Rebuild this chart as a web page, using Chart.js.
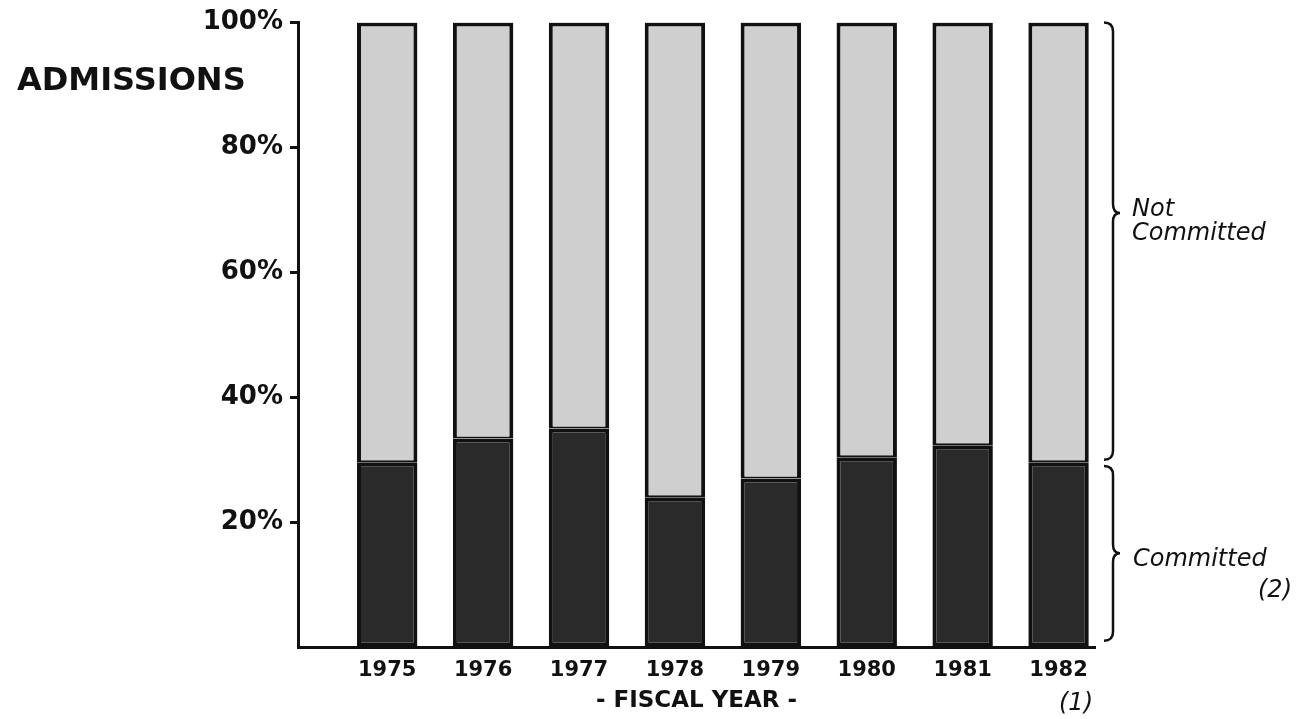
<!DOCTYPE html>
<html>
<head>
<meta charset="utf-8">
<title>Admissions by fiscal year</title>
<script src="https://cdn.jsdelivr.net/npm/chart.js@4.4.1/dist/chart.umd.min.js"></script>
<style>
  html, body { margin: 0; padding: 0; background: #fff; }
  #wrap { width: 1296px; height: 719px; position: relative; }
</style>
</head>
<body>
<div id="wrap"><canvas id="admissionsChart"></canvas></div>
<script>
// fiscal years on the x axis
const years = [1975, 1976, 1977, 1978, 1979, 1980, 1981, 1982];
// share of admissions (%)
const committed    = [29.6, 33.4, 35.0, 24.0, 27.0, 30.4, 32.3, 29.6];
const notCommitted = [70.4, 66.6, 65.0, 76.0, 73.0, 69.6, 67.7, 70.4];
const yTicks = [0, 20, 40, 60, 80, 100];

const FONT = "'DejaVu Sans', 'Liberation Sans', sans-serif";
const INK = '#111111';

// curly brace pointing right, ends hooked back to the left
function drawBrace(ctx, x, yTop, yBottom, yTip) {
    const r = 9;
    ctx.beginPath();
    ctx.moveTo(x - 9, yTop);
    ctx.quadraticCurveTo(x, yTop, x, yTop + r);
    ctx.lineTo(x, yTip - r);
    ctx.quadraticCurveTo(x, yTip, x + 7, yTip);
    ctx.quadraticCurveTo(x, yTip, x, yTip + r);
    ctx.lineTo(x, yBottom - r);
    ctx.quadraticCurveTo(x, yBottom, x - 9, yBottom);
    ctx.stroke();
}

const annotations = {
    id: 'annotations',
    afterDraw(chart) {
        const { ctx, chartArea, scales: { y } } = chart;
        ctx.save();
        ctx.fillStyle = INK;
        ctx.strokeStyle = INK;
        ctx.lineWidth = 2.5;

        // "ADMISSIONS" heading left of the axis
        ctx.font = `bold 32px ${FONT}`;
        ctx.textAlign = 'left';
        ctx.textBaseline = 'middle';
        ctx.fillText('ADMISSIONS', 17, 82);

        // braces on the right
        const bx = chartArea.right + 18;
        drawBrace(ctx, bx, y.getPixelForValue(100), y.getPixelForValue(30), y.getPixelForValue(69.5));
        drawBrace(ctx, bx, y.getPixelForValue(29), y.getPixelForValue(1), y.getPixelForValue(15));

        ctx.font = `oblique 24px ${FONT}`;
        ctx.textAlign = 'left';
        ctx.fillText('Not', bx + 19, y.getPixelForValue(70.1));
        ctx.fillText('Committed', bx + 19, y.getPixelForValue(66.2));
        ctx.fillText('Committed', bx + 20, y.getPixelForValue(14.0));
        ctx.textAlign = 'right';
        ctx.fillText('(2)', 1292, y.getPixelForValue(9));

        // footnote under the last year
        ctx.fillText('(1)', chartArea.right - 2, 704);
        ctx.restore();
    }
};

const barStyle = {
    borderColor: INK,
    borderSkipped: false,
    barPercentage: 1,
    categoryPercentage: 0.63
};

new Chart(document.getElementById('admissionsChart'), {
    type: 'bar',
    data: {
        datasets: [
            {
                label: 'Committed',
                data: years.map((yr, i) => ({ x: yr, y: committed[i] })),
                backgroundColor: '#2a2a2a',
                borderWidth: 4,
                ...barStyle
            },
            {
                label: 'Not Committed',
                data: years.map((yr, i) => ({ x: yr, y: notCommitted[i] })),
                backgroundColor: '#cfcfcf',
                borderWidth: { top: 4, left: 4, right: 4, bottom: 2 },
                ...barStyle
            }
        ]
    },
    options: {
        responsive: true,
        maintainAspectRatio: false,
        animation: false,
        layout: { padding: { left: 0, top: 22, right: 201, bottom: 0 } },
        plugins: { legend: { display: false }, tooltip: { enabled: false } },
        scales: {
            x: {
                type: 'linear',
                stacked: true,
                offset: false,
                min: 1974.07,
                max: 1982.38,
                afterBuildTicks: axis => { axis.ticks = years.map(v => ({ value: v })); },
                afterFit: scale => { scale.height = 72; },
                grid: { display: true, drawOnChartArea: false, drawTicks: false },
                border: { display: true, width: 3, color: INK },
                ticks: {
                    autoSkip: false,
                    maxRotation: 0,
                    padding: 11,
                    color: INK,
                    font: { family: FONT, size: 21, weight: 'bold' },
                    callback: v => String(v)
                },
                title: {
                    display: true,
                    text: '- FISCAL YEAR -',
                    color: INK,
                    font: { family: FONT, size: 23, weight: 'bold' },
                    padding: { top: 0, bottom: 4 }
                }
            },
            y: {
                stacked: true,
                min: 0,
                max: 100,
                afterBuildTicks: axis => { axis.ticks = yTicks.map(v => ({ value: v })); },
                afterFit: scale => { scale.width = 298; },
                grid: {
                    display: true,
                    drawOnChartArea: false,
                    drawTicks: true,
                    tickLength: 8,
                    tickWidth: 3,
                    tickColor: c => (c.tick && c.tick.value === 0 ? 'rgba(0,0,0,0)' : INK)
                },
                border: { display: true, width: 3, color: INK },
                ticks: {
                    padding: 7,
                    color: INK,
                    font: { family: FONT, size: 26, weight: 'bold' },
                    callback: v => (v === 0 ? '' : v + '%')
                }
            }
        }
    },
    plugins: [annotations]
});
</script>
</body>
</html>
